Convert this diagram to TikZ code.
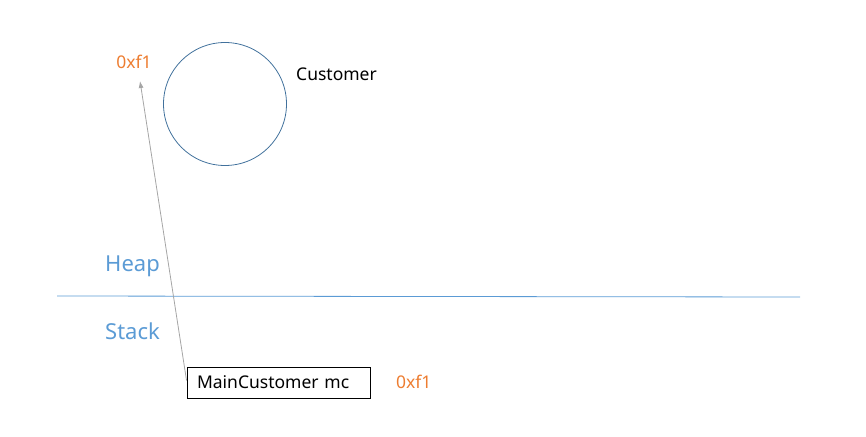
\documentclass[tikz,border=0pt]{standalone}
\usepackage{fontspec}
\setmainfont{Noto Sans}
\usetikzlibrary{arrows.meta,calc}
\definecolor{circblue}{HTML}{41719C}
\definecolor{lblue}{HTML}{5B9BD5}
\definecolor{orng}{HTML}{ED7D31}
\definecolor{agray}{HTML}{A5A5A5}
\tikzset{
  txt/.style={inner sep=0pt, font=\fontsize{17.5}{21}\selectfont},
  region/.style={inner sep=0pt, text=lblue, font=\fontsize{22}{26}\selectfont},
  addr/.style={txt, text=orng},
  varbox/.style={draw=black, line width=0.9pt, minimum width=183pt, minimum height=31pt, inner sep=0pt, text width=163pt, align=left, font=\fontsize{17.5}{21}\selectfont},
}
\begin{document}
\begin{tikzpicture}[x=1pt,y=-1pt]
\useasboundingbox (0,0) rectangle (866,436);
\node[draw=circblue, line width=0.8pt, circle, minimum size=123pt, inner sep=0pt] (obj) at (225,104) {};
\node[txt, anchor=west] (cname) at (296,74) {Customer};
\node[addr] (haddr) at (134,62) {0xf1};
\coordinate (tip) at (140,81);
\node[region, anchor=west] (heap) at (105,266) {Heap};
\node[region, anchor=west] (stack) at (105,331) {Stack};
\coordinate (l1) at (57,296);
\coordinate (l2) at (800,297);
\draw[lblue, line width=0.8pt] (l1) -- (l2);
\node[varbox] (mc) at (278.5,382.5) {MainCustomer mc};
\node[addr, anchor=west] (saddr) at (396,382) {0xf1};
\draw[agray, line width=0.8pt, -{Latex[length=7pt,width=5pt]}] ($(mc.west)+(0,-2)$) -- (tip);
\end{tikzpicture}
\end{document}
